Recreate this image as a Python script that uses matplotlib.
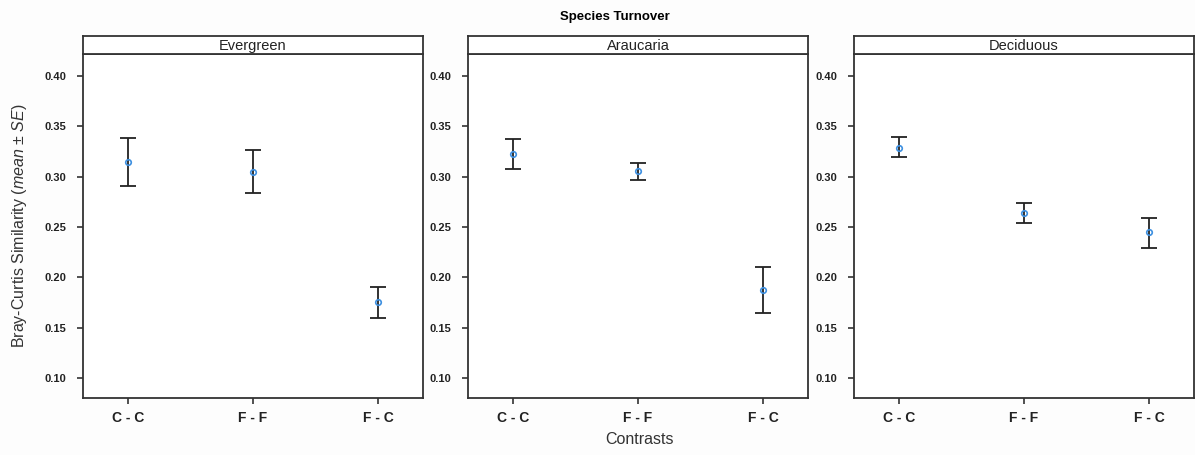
import matplotlib.pyplot as plt
import numpy as np

plt.rcParams['font.family'] = ['Liberation Sans', 'DejaVu Sans']
plt.rcParams['mathtext.fontset'] = 'custom'
plt.rcParams['mathtext.it'] = 'Liberation Sans:italic'
plt.rcParams['mathtext.rm'] = 'Liberation Sans'

# data
panels = ["Evergreen", "Araucaria", "Deciduous"]
contrasts = ["C - C", "F - F", "F - C"]
means = [[0.315, 0.305, 0.175],
         [0.323, 0.306, 0.187],
         [0.329, 0.264, 0.245]]
lower = [[0.291, 0.284, 0.160],
         [0.308, 0.297, 0.165],
         [0.320, 0.254, 0.229]]
upper = [[0.338, 0.327, 0.190],
         [0.337, 0.314, 0.210],
         [0.339, 0.274, 0.259]]
yticks = [0.10, 0.15, 0.20, 0.25, 0.30, 0.35, 0.40]

fig = plt.figure(figsize=(11.95, 4.55), dpi=100)
fig.patch.set_facecolor("#fdfdfd")

lefts = [83, 468, 854]
W, H = 1195, 455
x = np.arange(1, 4)

for i, name in enumerate(panels):
    l = lefts[i] / W
    ax = fig.add_axes([l, 1 - 398 / H, 340 / W, (398 - 54) / H])
    m = np.array(means[i])
    lo = m - np.array(lower[i])
    hi = np.array(upper[i]) - m
    ax.errorbar(x, m, yerr=[lo, hi], fmt="none", ecolor="#222222",
                elinewidth=1.3, capsize=6, capthick=1.3)
    ax.plot(x, m, "o", ms=4, mfc="none", mec="#3d8fe0", mew=1.2)
    ax.set_xlim(0.64, 3.36)
    ax.set_ylim(0.080, 0.422)
    ax.set_xticks(x)
    ax.set_xticklabels(contrasts, fontsize=10, fontweight="bold", color="#222222")
    ax.set_yticks(yticks)
    ax.set_yticklabels(["%.2f" % v for v in yticks], fontsize=8,
                       fontweight="bold", color="#222222")
    ax.tick_params(length=4, width=1.2, color="#333333")
    ax.tick_params(axis="x", pad=5)
    ax.tick_params(axis="y", pad=8)
    for s in ax.spines.values():
        s.set_linewidth(1.3)
        s.set_color("#333333")
    ax.set_facecolor("white")

    # strip
    sax = fig.add_axes([l, 1 - 54 / H, 340 / W, 18 / H])
    sax.set_xticks([])
    sax.set_yticks([])
    for s in sax.spines.values():
        s.set_linewidth(1.3)
        s.set_color("#333333")
    sax.text(0.5, 0.45, name, ha="center", va="center", fontsize=10.5,
             color="#222222", transform=sax.transAxes)

fig.text(615 / W, 1 - 17 / H, "Species Turnover", ha="center", va="center",
         fontsize=9.5, fontweight="bold")
fig.text(640 / W, 1 - 440 / H, "Contrasts", ha="center", va="center",
         fontsize=11.5, color="#333333")
fig.text(20 / W, 1 - 226 / H, r"Bray-Curtis Similarity ($\mathit{mean}$ ± $\mathit{SE}$)",
         ha="center", va="center", rotation=90, fontsize=11.5, color="#333333")

fig.savefig("out.png", dpi=100, facecolor=fig.get_facecolor())
